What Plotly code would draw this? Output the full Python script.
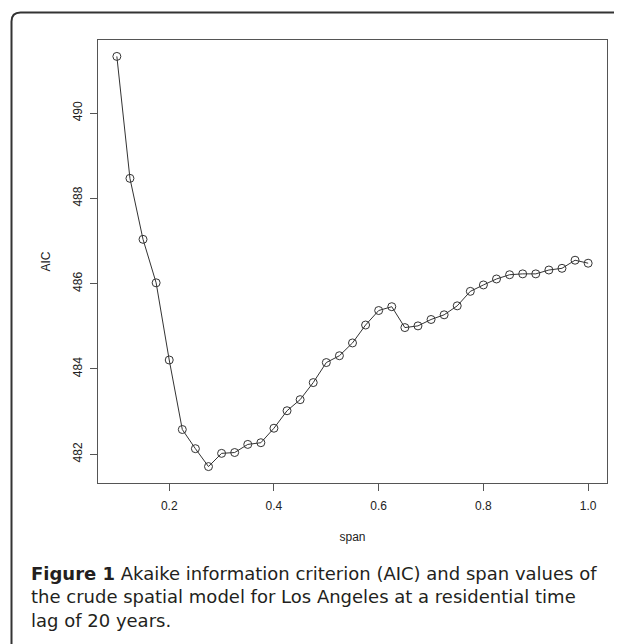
import plotly.graph_objects as go

# ---- data ----
span = [0.1, 0.125, 0.15, 0.175, 0.2, 0.225, 0.25, 0.275, 0.3, 0.325, 0.35, 0.375,
        0.4, 0.425, 0.45, 0.475, 0.5, 0.525, 0.55, 0.575, 0.6, 0.625, 0.65, 0.675,
        0.7, 0.725, 0.75, 0.775, 0.8, 0.825, 0.85, 0.875, 0.9, 0.925, 0.95, 0.975, 1.0]
aic = [491.33, 488.47, 487.04, 486.02, 484.21, 482.58, 482.13, 481.71, 482.02, 482.04,
       482.23, 482.27, 482.61, 483.02, 483.28, 483.68, 484.15, 484.31, 484.61, 485.03,
       485.37, 485.46, 484.97, 485.01, 485.16, 485.27, 485.48, 485.82, 485.97, 486.11,
       486.21, 486.23, 486.23, 486.32, 486.36, 486.55, 486.48]
x_ticks = [0.2, 0.4, 0.6, 0.8, 1.0]
x_ticklabels = ["0.2", "0.4", "0.6", "0.8", "1.0"]
y_ticks = [482, 484, 486, 488, 490]
y_ticklabels = ["482", "484", "486", "488", "490"]
caption_lines = [
    "<b>Figure 1</b> Akaike information criterion (AIC) and span values of",
    "the crude spatial model for Los Angeles at a residential time",
    "lag of 20 years.",
]

# page has an 8px body margin; the figure is sized to fill the rest of the window
OFF = 8
W, H = 622 - OFF, 644 - OFF
ML, MR, MT, MB = 90, 15, 32, 161
PW, PH = W - ML - MR, H - MT - MB


def px(x):
    """page x pixel -> paper coordinate"""
    return (x - OFF - ML) / PW


def py(y):
    """page y pixel -> paper coordinate"""
    return (H - MB - (y - OFF)) / PH


def r_range(v):
    lo, hi = min(v), max(v)
    d = (hi - lo) * 0.04
    return [lo - d, hi + d]


ink = "#333333"
tick_font = dict(family="Liberation Sans, Arial, sans-serif", size=12, color="#222222")

fig = go.Figure()
fig.add_trace(go.Scatter(
    x=span, y=aic, mode="lines+markers",
    line=dict(color=ink, width=1),
    marker=dict(symbol="circle-open", size=8, color=ink, line=dict(width=1, color=ink)),
    showlegend=False, hoverinfo="x+y",
))

fig.update_xaxes(
    range=r_range(span), tickmode="array", tickvals=x_ticks, ticktext=x_ticklabels,
    showgrid=False, zeroline=False, showline=True, mirror=True, linecolor="#555555",
    linewidth=1, ticks="outside", ticklen=7, tickcolor="#555555", tickfont=tick_font,
    ticklabelstandoff=5,
    title=dict(text="span", font=tick_font, standoff=20),
)
fig.update_yaxes(
    range=r_range(aic), tickmode="array", tickvals=y_ticks, ticktext=y_ticklabels,
    showgrid=False, zeroline=False, showline=True, mirror=True, linecolor="#555555",
    linewidth=1, ticks="outside", ticklen=7, tickcolor="#555555", tickfont=tick_font,
    tickangle=-90, ticklabelstandoff=3,
    title=dict(text="AIC", font=tick_font, standoff=18),
)

# rounded frame (top and left edges)
r = 9
xl, yt = 11.5, 12.5
path = (f"M {px(xl)},{py(650)} L {px(xl)},{py(yt + r)} "
        f"Q {px(xl)},{py(yt)} {px(xl + r)},{py(yt)} L {px(626)},{py(yt)}")
fig.add_shape(type="path", xref="paper", yref="paper", path=path,
              line=dict(color="#333333", width=2))

cap_font = dict(family="DejaVu Sans, Open Sans, sans-serif", size=18, color="#231f20")
fig.add_annotation(text="<br>".join(caption_lines), xref="paper", yref="paper",
                   x=px(29), y=py(596.5), xanchor="left", yanchor="middle",
                   showarrow=False, font=cap_font, align="left")

fig.update_layout(
    width=W, height=H, autosize=False,
    margin=dict(l=ML, r=MR, t=MT, b=MB),
    paper_bgcolor="white", plot_bgcolor="white",
)

fig.write_html("out.html")
